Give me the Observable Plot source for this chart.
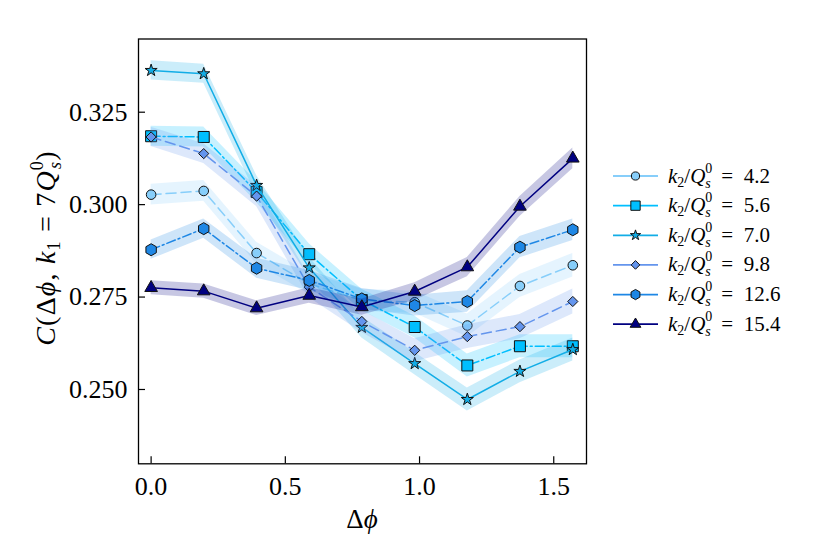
<!DOCTYPE html>
<html>
<head>
<meta charset="utf-8">
<script src="https://cdn.jsdelivr.net/npm/d3@7"></script>
<script src="https://cdn.jsdelivr.net/npm/@observablehq/plot@0.6"></script>
<style>
  html, body { margin: 0; padding: 0; background: white; }
  svg { display: block; }
</style>
</head>
<body>
<div id="chart"></div>
<script>
// ---- data ----
const phi = [0, 0.196, 0.393, 0.589, 0.785, 0.982, 1.178, 1.374, 1.571];
const k2Labels = ["4.2", "5.6", "7.0", "9.8", "12.6", "15.4"];

const c42  = [0.3027, 0.3037, 0.2869, 0.2786, 0.2741, 0.2736, 0.2673, 0.2780, 0.2836];
const c56  = [0.3185, 0.3183, 0.3034, 0.2866, 0.2742, 0.2669, 0.2565, 0.2617, 0.2617];
const c70  = [0.3363, 0.3354, 0.3052, 0.2829, 0.2668, 0.2570, 0.2473, 0.2549, 0.2608];
const c98  = [0.3183, 0.3138, 0.3023, 0.2777, 0.2684, 0.2606, 0.2643, 0.2670, 0.2738];
const c126 = [0.2878, 0.2935, 0.2828, 0.2795, 0.2745, 0.2727, 0.2738, 0.2885, 0.2932];
const c154 = [0.2775, 0.2766, 0.2720, 0.2754, 0.2723, 0.2765, 0.2831, 0.2995, 0.3125];

const e42  = [0.0028, 0.0028, 0.0029, 0.0029, 0.0030, 0.0030, 0.0031, 0.0031, 0.0032];
const e56  = [0.0027, 0.0027, 0.0028, 0.0028, 0.0029, 0.0030, 0.0031, 0.0031, 0.0031];
const e70  = [0.0026, 0.0026, 0.0027, 0.0028, 0.0029, 0.0030, 0.0031, 0.0031, 0.0031];
const e98  = [0.0026, 0.0027, 0.0028, 0.0029, 0.0030, 0.0031, 0.0032, 0.0033, 0.0034];
const e126 = [0.0026, 0.0026, 0.0027, 0.0027, 0.0028, 0.0028, 0.0029, 0.0029, 0.0029];
const e154 = [0.0019, 0.0019, 0.0020, 0.0021, 0.0022, 0.0024, 0.0026, 0.0027, 0.0028];

const xTicks = [0, 0.5, 1.0, 1.5];
const yTicks = [0.250, 0.275, 0.300, 0.325];

// ---- styles ----
const values = [c42, c56, c70, c98, c126, c154];
const errors = [e42, e56, e70, e98, e126, e154];
const colors = ["#87cefa", "#00bfff", "#12ade6", "#6495ed", "#1e87e5", "#000080"];
const symbols = ["circle", "square", "star", "diamond2", "hexagon", "triangle"];
const radii = [4.8, 6.2, 3.8, 4.6, 5.2, 4.7];
const dashes = ["10,5", "9,3,2,3", null, "10,5", "9,3,2,3", null];

const FONT = "'Liberation Serif', 'DejaVu Serif', serif";

const marks = [];
values.forEach((vals, i) => {
  const rows = phi.map((p, j) => ({phi: p, c: vals[j], e: errors[i][j]}));
  marks.push(Plot.areaY(rows, {x: "phi", y1: d => d.c - d.e, y2: d => d.c + d.e,
    fill: colors[i], fillOpacity: 0.22, curve: "linear"}));
  marks.push(Plot.line(rows, {x: "phi", y: "c", stroke: colors[i], strokeWidth: 1.5,
    strokeDasharray: dashes[i]}));
  marks.push(Plot.dot(rows, {x: "phi", y: "c", symbol: symbols[i], r: radii[i],
    fill: colors[i], stroke: "#111", strokeWidth: 1}));
});

const chart = Plot.plot({
  width: 830,
  height: 554,
  marginLeft: 138,
  marginRight: 244,
  marginTop: 38.5,
  marginBottom: 90.7,
  style: {fontFamily: FONT, fontSize: "26px", background: "white", color: "black"},
  x: {domain: [-0.047, 1.622]},
  y: {domain: [0.2299, 0.3448]},
  marks: [
    ...marks,
    Plot.frame({stroke: "black", strokeWidth: 1.3}),
    Plot.axisX(xTicks, {tickSize: -7, tickPadding: 20, tickFormat: d3.format(".1f"),
      label: null, fontSize: 26, strokeWidth: 1.2}),
    Plot.axisY(yTicks, {tickSize: -7, tickPadding: 18, tickFormat: d3.format(".3f"),
      label: null, fontSize: 26, strokeWidth: 1.2})
  ]
});

document.getElementById("chart").appendChild(chart);

// ---- axis titles and legend (real text) ----
const svg = d3.select(chart);

function addParts(textSel, parts) {
  parts.forEach(p => {
    const t = textSel.append("tspan").text(p.t);
    if (p.i) t.attr("font-style", "italic");
    if (p.s) t.attr("font-size", p.s);
    if (p.dx != null) t.attr("dx", p.dx);
    if (p.dy != null) t.attr("dy", p.dy);
  });
}

// x label
const xl = svg.append("text")
  .attr("x", 362).attr("y", 528)
  .attr("text-anchor", "middle")
  .attr("font-family", FONT).attr("font-size", 27).attr("fill", "black");
addParts(xl, [{t: "Δ"}, {t: "ϕ", i: true}]);

// y label
const yl = svg.append("text")
  .attr("transform", "translate(55,248) rotate(-90)")
  .attr("text-anchor", "middle")
  .attr("letter-spacing", 1.2)
  .attr("font-family", FONT).attr("font-size", 28).attr("fill", "black");
addParts(yl, [
  {t: "C", i: true}, {t: "(Δ"}, {t: "ϕ", i: true}, {t: ", "},
  {t: "k", i: true}, {t: "1", s: 18, dy: 5}, {t: " = 7", dy: -5},
  {t: "Q", i: true}, {t: "0", s: 18, dy: -12}, {t: "s", i: true, s: 18, dx: -9, dy: 18},
  {t: ")", dy: -6}
]);

// hexagon matching Plot's symbol
const symbolHexagon = {
  draw(context, size) {
    const rx = Math.sqrt(size / Math.PI), ry = rx * 2 / Math.sqrt(3), hy = ry / 2;
    context.moveTo(0, ry); context.lineTo(rx, hy); context.lineTo(rx, -hy);
    context.lineTo(0, -ry); context.lineTo(-rx, -hy); context.lineTo(-rx, hy);
    context.closePath();
  }
};
const d3Symbols = {
  circle: d3.symbolCircle, square: d3.symbolSquare, star: d3.symbolStar,
  diamond2: d3.symbolDiamond2, hexagon: symbolHexagon, triangle: d3.symbolTriangle
};

const legendY0 = 176, legendDY = 29.64;
const lg = svg.append("g");
k2Labels.forEach((lab, i) => {
  const y = legendY0 + i * legendDY;
  lg.append("line").attr("x1", 613).attr("x2", 658).attr("y1", y).attr("y2", y)
    .attr("stroke", colors[i]).attr("stroke-width", 1.8);
  const r = radii[i] * 0.85;
  lg.append("path")
    .attr("d", d3.symbol(d3Symbols[symbols[i]], r * r * Math.PI)())
    .attr("transform", `translate(635.5,${y})`)
    .attr("fill", colors[i]).attr("stroke", "#111").attr("stroke-width", 1);
  const t = lg.append("text").attr("x", 668).attr("y", y + 6.5)
    .attr("text-anchor", "start")
    .attr("font-family", FONT).attr("font-size", 21).attr("fill", "black");
  addParts(t, [
    {t: "k", i: true}, {t: "2", s: 14, dy: 4}, {t: "/", dy: -4},
    {t: "Q", i: true}, {t: "0", s: 14, dy: -10}, {t: "s", i: true, s: 14, dx: -7, dy: 15},
    {t: "\u2002=\u2002" + lab, dy: -5}
  ]);
});
</script>
</body>
</html>
